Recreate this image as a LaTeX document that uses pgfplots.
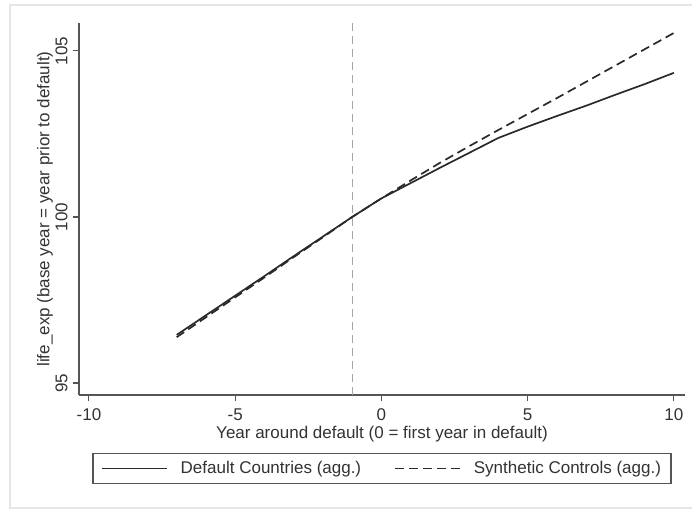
\documentclass[border=0pt]{standalone}
\usepackage{pgfplots}
\pgfplotsset{compat=1.18}
\usepackage{fontspec}
\setmainfont{Liberation Sans}
\definecolor{txt}{HTML}{333333}
\definecolor{axc}{HTML}{555555}
\definecolor{linec}{HTML}{2A2A2A}
\definecolor{frame}{HTML}{E6E6E6}
\begin{document}
\begin{tikzpicture}[x=1pt,y=1pt]
\path[use as bounding box] (0,0) rectangle (692,512);
\draw[frame, line width=2pt] (10,4) rectangle (705,507);
\begin{axis}[
  at={(79pt,117pt)}, anchor=south west,
  scale only axis, width=606pt, height=372pt,
  xmin=-10.34, xmax=10.38, ymin=94.64, ymax=105.84,
  axis x line*=bottom, axis y line*=left,
  axis line style={axc, line width=1.1pt, -},
  xtick={-10,-5,0,5,10}, xticklabels={-10,-5,0,5,10},
  ytick={95,100,105}, yticklabels={95,100,105},
  tick align=outside, major tick length=6pt,
  tick style={axc, line width=1.1pt},
  every tick label/.append style={font=\fontsize{17}{20}\selectfont, text=txt},
  yticklabel style={rotate=90, anchor=south, yshift=2pt},
  xticklabel style={yshift=-4pt},
  xlabel={Year around default (0 = first year in default)},
  ylabel={life\_exp (base year = year prior to default)},
  label style={font=\fontsize{17}{20}\selectfont, text=txt},
  xlabel style={at={(axis description cs:0.5,-0.105)}, anchor=center},
  ylabel style={at={(axis description cs:-0.056,0.5)}, anchor=center, rotate=0},
  clip=false,
  legend columns=2,
  legend cell align=left,
  legend image code/.code={\draw[#1] (0pt,0pt) -- (65pt,0pt);},
  legend style={at={(axis description cs:0.5,-0.1976)}, anchor=center,
    draw=axc, line width=1.1pt, inner xsep=8pt, inner ysep=6pt,
    font=\fontsize{17}{20}\selectfont, text=txt,
    /tikz/every odd column/.append style={column sep=11pt},
    /tikz/every even column/.append style={column sep=31pt}},
]
\addplot[gray!70, line width=1.2pt, dash pattern=on 8pt off 5pt, forget plot] coordinates {(-1,94.64) (-1,105.84)};
\addplot[linec, line width=1.7pt] coordinates {
(-7,96.45) (-6,97.04) (-5,97.63) (-4,98.22) (-3,98.82) (-2,99.41) (-1,100)
(0,100.56) (1,101.02) (2,101.48) (3,101.93) (4,102.38)
(5,102.72) (6,103.04) (7,103.35) (8,103.68) (9,104.0) (10,104.34)};
\addlegendentry{Default Countries (agg.)}
\addplot[linec, line width=1.7pt, dash pattern=on 9pt off 5pt] coordinates {
(-7,96.38) (-6,96.98) (-5,97.58) (-4,98.18) (-3,98.79) (-2,99.39) (-1,100)
(0,100.56) (1,101.1) (2,101.63) (3,102.13) (4,102.62)
(5,103.1) (6,103.58) (7,104.07) (8,104.56) (9,105.05) (10,105.54)};
\addlegendentry{Synthetic Controls (agg.)}
\end{axis}
\end{tikzpicture}
\end{document}
